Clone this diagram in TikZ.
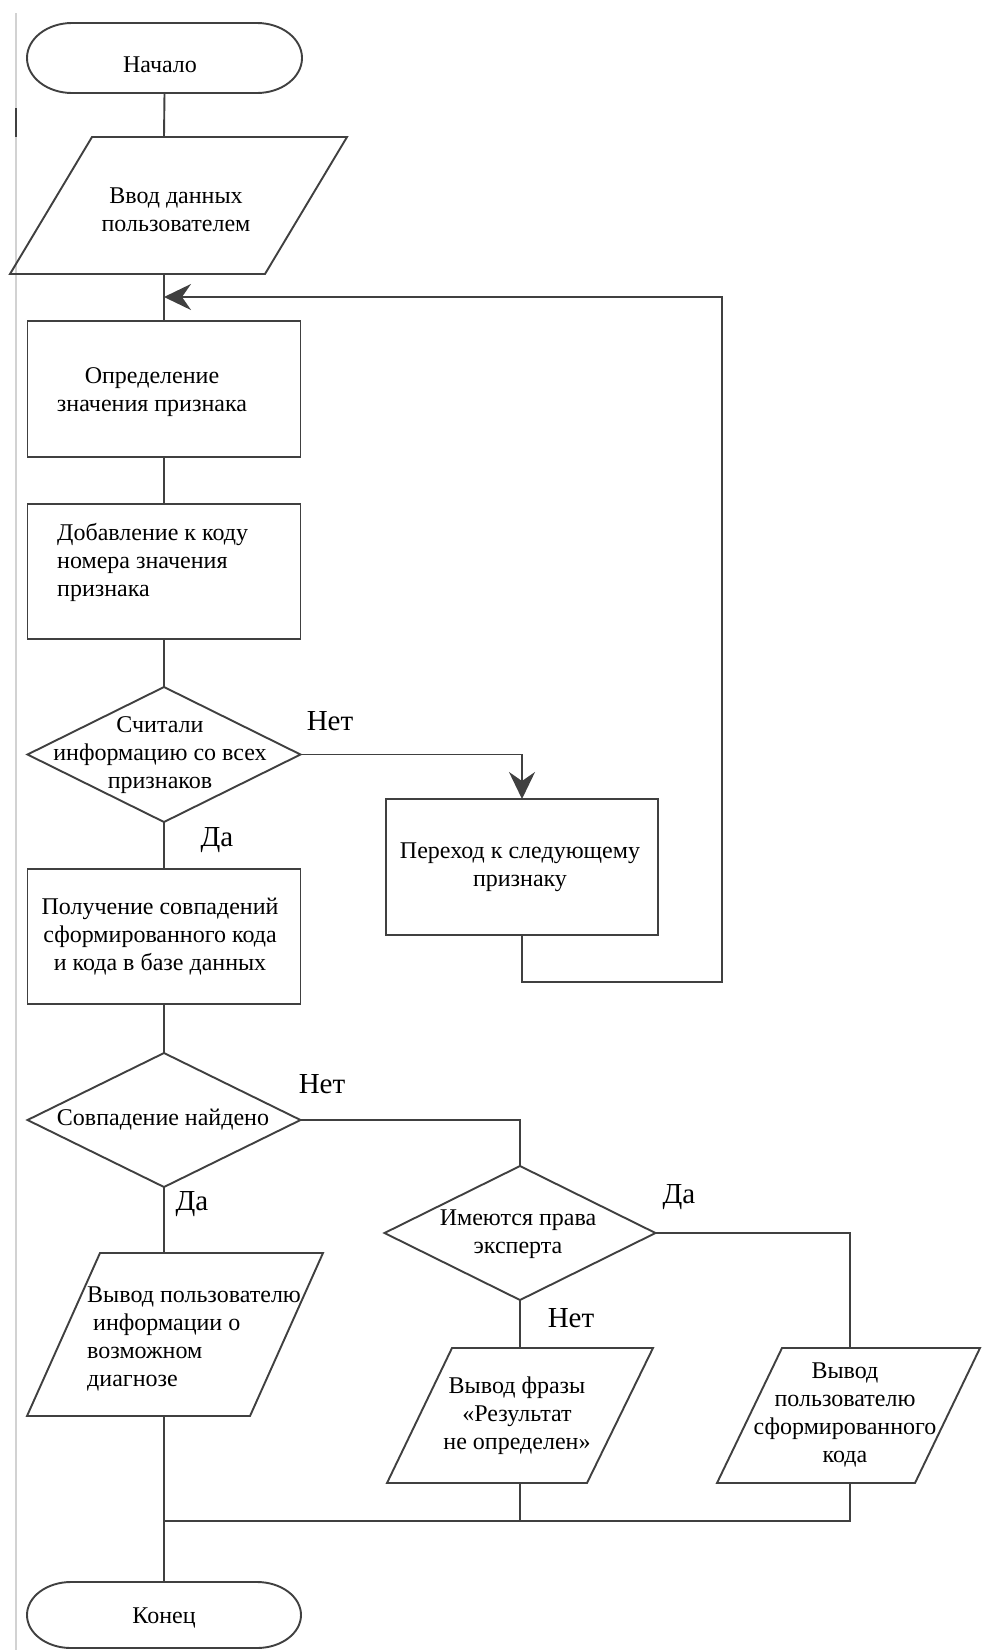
\documentclass[tikz,border=0pt]{standalone}
\usepackage{fontspec}
\setmainfont{Liberation Serif}
\usetikzlibrary{shapes.geometric,arrows.meta}
\definecolor{lc}{HTML}{404040}
\begin{document}
\begin{tikzpicture}[x=1pt,y=-1pt,
  ln/.style={draw=lc, line width=1.9pt},
  shp/.style={draw=lc, line width=1.9pt, inner sep=0pt, outer sep=0pt},
  stepbox/.style={shp, rectangle, minimum width=273pt, minimum height=135pt},
  dia/.style={shp, diamond, minimum width=273pt, minimum height=135pt},
  term/.style={rectangle, inner sep=0pt, outer sep=0pt, minimum width=275pt, minimum height=68pt},
  txt/.style={font=\fontsize{24}{28}\selectfont, align=center, inner sep=0pt},
  txtl/.style={font=\fontsize{24}{28}\selectfont, align=left, inner sep=0pt, anchor=west},
  lbl/.style={font=\fontsize{29}{32}\selectfont, inner sep=0pt, anchor=base},
  arr/.style={-{Stealth[length=27pt,width=26pt,inset=9pt]}}
]
\useasboundingbox (0,0) rectangle (985,1650);
\fill[white] (0,0) rectangle (985,1650);

% page edge line
\draw[gray!35, line width=1.5pt] (16,13) -- (16,1650);
\draw[lc, line width=1.8pt] (16,108) -- (16,137);

% shapes
\node[term, minimum height=70pt] (start) at (164.5,58) {};
\draw[shp] (72,23) -- (257,23) arc[start angle=-90, end angle=90, x radius=45, y radius=35]
  -- (72,93) arc[start angle=90, end angle=270, x radius=45, y radius=35] -- cycle;
\node[txt, anchor=base] (startT) at (160,72) {Начало};

\draw[shp] (10,274) -- (265,274) -- (347,137) -- (92,137) -- cycle;
\coordinate (p1t) at (164,137);
\coordinate (p1b) at (164,274);
\node[txt] (p1T) at (176,210) {Ввод данных\\пользователем};

\node[stepbox, minimum height=136pt] (box1) at (164,389) {};
\node[txt] (box1T) at (152,392) {Определение\\значения признака};

\node[stepbox] (box2) at (164,571.5) {};
\node[txtl] (box2T) at (57,562) {Добавление к коду\\номера значения\\признака};

\node[dia] (d1) at (164,754.5) {};
\node[txt] (d1T) at (160,755) {Считали\\информацию со всех\\признаков};

\node[stepbox, minimum width=272pt, minimum height=136pt] (box3) at (522,867) {};
\node[txt] (box3T) at (520,867) {Переход к следующему\\признаку};

\node[stepbox] (box4) at (164,936.5) {};
\node[txt] (box4T) at (160,937) {Получение совпадений\\сформированного кода\\и кода в базе данных};

\node[dia, minimum height=134pt] (d2) at (164,1120) {};
\node[txt] (d2T) at (163,1120) {Совпадение найдено};

\node[dia, minimum width=271pt, minimum height=134pt] (d3) at (520,1233) {};
\node[txt] (d3T) at (518,1234) {Имеются права\\эксперта};

\draw[shp] (27,1416) -- (250,1416) -- (323,1253) -- (100,1253) -- cycle;
\coordinate (p2t) at (164,1253);
\coordinate (p2b) at (164,1416);
\node[txtl] (p2T) at (87,1339) {Вывод пользователю\\\hspace{6pt}информации о\\возможном\\диагнозе};

\draw[shp] (387,1483) -- (587,1483) -- (653,1348) -- (452,1348) -- cycle;
\coordinate (p3t) at (520,1348);
\coordinate (p3b) at (520,1483);
\node[txt] (p3T) at (517,1416) {Вывод фразы\\«Результат\\не определен»};

\draw[shp] (717,1483) -- (915,1483) -- (980,1348) -- (782,1348) -- cycle;
\coordinate (p4t) at (850,1348);
\coordinate (p4b) at (850,1483);
\node[txt] (p4T) at (845,1415) {Вывод\\пользователю\\сформированного\\кода};

\node[term, minimum height=66pt] (endT) at (164,1615) {};
\draw[shp] (71,1582) -- (257,1582) arc[start angle=-90, end angle=90, x radius=44, y radius=33]
  -- (71,1648) arc[start angle=90, end angle=270, x radius=44, y radius=33] -- cycle;
\node[txt, anchor=base] (endTT) at (164,1623) {Конец};

% junction coordinates
\coordinate (merge) at (164,297);
\coordinate (loopA) at (522,982);
\coordinate (loopB) at (722,982);
\coordinate (j2) at (164,1521);
\coordinate (j3) at (520,1521);
\coordinate (j4) at (850,1521);

% connectors
\draw[ln] (start.south) -- (p1t);
\draw[ln] (p1b) -- (box1.north);
\draw[ln] (box1.south) -- (box2.north);
\draw[ln] (box2.south) -- (d1.north);
\draw[ln] (d1.south) -- (box4.north);
\draw[ln, arr] (d1.east) -| (box3.north);
\draw[ln, arr] (box3.south) -- (loopA) -- (loopB) |- (merge);
\draw[ln] (box4.south) -- (d2.north);
\draw[ln] (d2.east) -| (d3.north);
\draw[ln] (d2.south) -- (p2t);
\draw[ln] (d3.east) -| (p4t);
\draw[ln] (d3.south) -- (p3t);
\draw[ln] (p2b) -- (endT.north);
\draw[ln] (p3b) -- (j3);
\draw[ln] (p4b) -- (j4) -- (j2);

% labels
\node[lbl] (l1) at (330,730) {Нет};
\node[lbl] (l2) at (217,846) {Да};
\node[lbl] (l3) at (322,1093) {Нет};
\node[lbl] (l4) at (192,1210) {Да};
\node[lbl] (l5) at (679,1203) {Да};
\node[lbl] (l6) at (571,1327) {Нет};
\end{tikzpicture}
\end{document}
